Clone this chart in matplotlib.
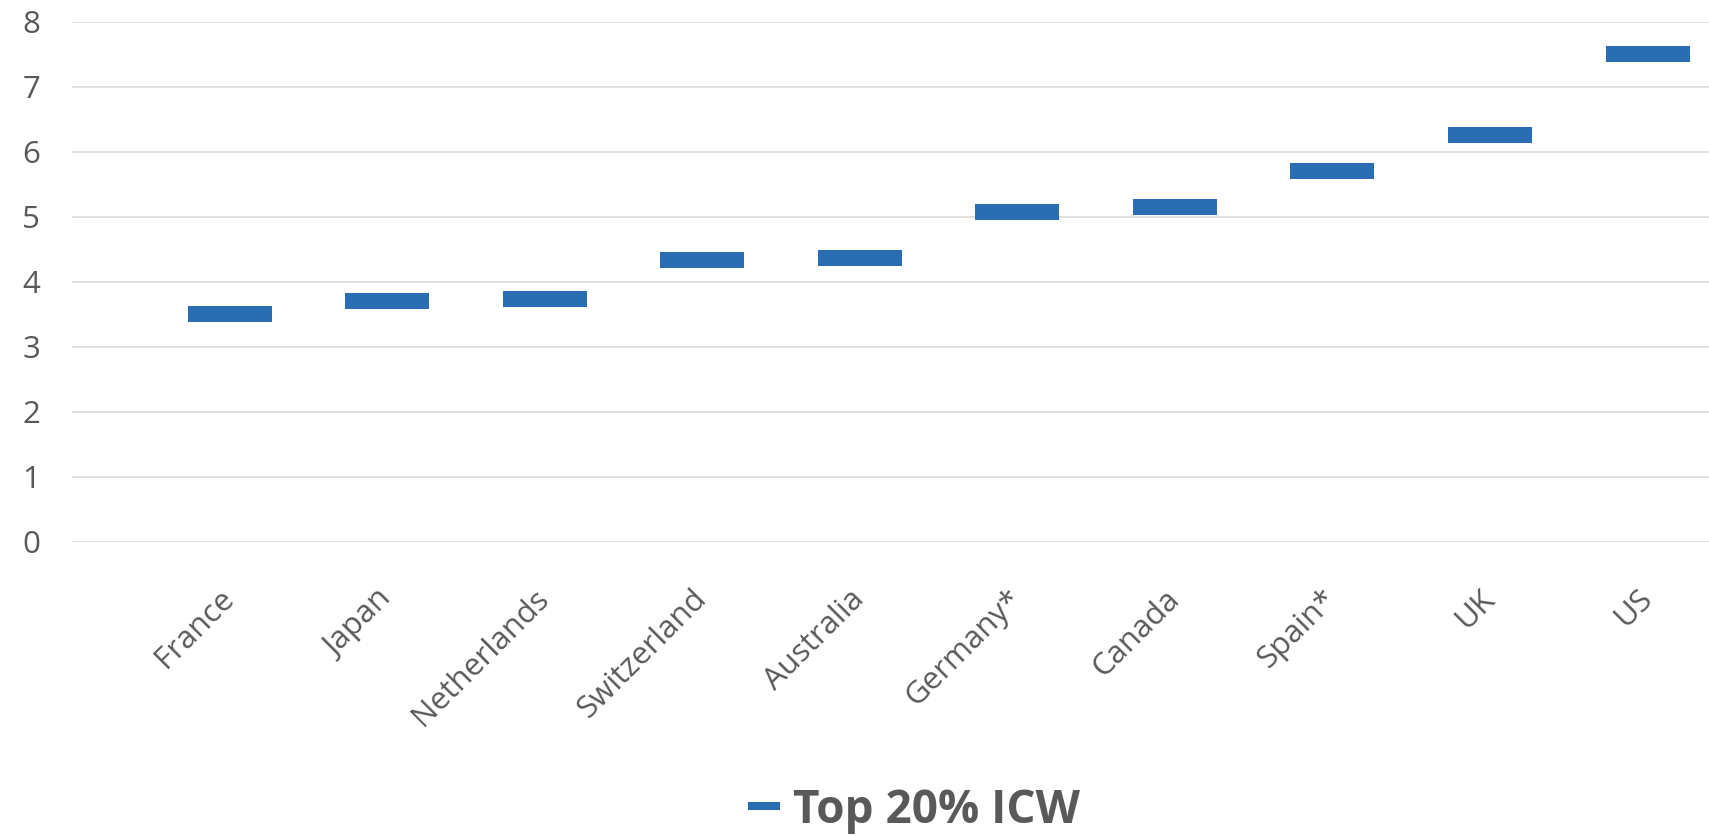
import matplotlib
matplotlib.use("Agg")
import matplotlib.pyplot as plt
from matplotlib.lines import Line2D

# Data
countries = ["France", "Japan", "Netherlands", "Switzerland", "Australia",
             "Germany*", "Canada", "Spain*", "UK", "US"]
top20_icw = [3.51, 3.70, 3.74, 4.33, 4.37, 5.08, 5.15, 5.70, 6.26, 7.50]
series_name = "Top 20% ICW"
y_ticks = [0, 1, 2, 3, 4, 5, 6, 7, 8]

BLUE = "#2A6DB3"
GREY_TEXT = "#595959"
GRID = "#D9D9D9"

plt.rcParams["font.family"] = ["Open Sans", "DejaVu Sans"]

W, H, DPI = 1709, 836, 100
fig = plt.figure(figsize=(W / DPI, H / DPI), dpi=DPI)
ax = fig.add_axes([72 / W, 1 - 541.7 / H, 1 - 72 / W, (541.7 - 21.8) / H])

# rectangular dash marker
dash = [(-0.5, -0.1), (0.5, -0.1), (0.5, 0.1), (-0.5, 0.1), (-0.5, -0.1)]
x = list(range(len(countries)))
ax.plot(x, top20_icw, linestyle="none", marker=dash, markersize=59.8,
        markerfacecolor=BLUE, markeredgewidth=0, zorder=3)

ax.set_ylim(0, 8)
ax.set_xlim(-1.0, 9.39)
ax.set_yticks(y_ticks)
ax.set_yticklabels([str(t) for t in y_ticks])
ax.yaxis.grid(True, color=GRID, linewidth=1.1)
ax.set_axisbelow(True)
for s in ax.spines.values():
    s.set_visible(False)

ax.tick_params(axis="y", length=0, pad=23, labelsize=22.5, labelcolor=GREY_TEXT)
ax.tick_params(axis="x", length=0, pad=38, labelsize=22.5, labelcolor=GREY_TEXT)
ax.set_xticks(x)
ax.set_xticklabels(countries, rotation=45, ha="right", va="center",
                   rotation_mode="anchor")

handle = Line2D([], [], color=BLUE, linewidth=5.8, solid_capstyle="butt")
leg = fig.legend([handle], [series_name], loc="center",
                 bbox_to_anchor=(914 / W, 1 - 810 / H),
                 frameon=False, handlelength=0.7, handletextpad=0.28,
                 prop={"size": 33, "weight": "bold"})
for t in leg.get_texts():
    t.set_color(GREY_TEXT)

fig.savefig("out.png", dpi=DPI)
